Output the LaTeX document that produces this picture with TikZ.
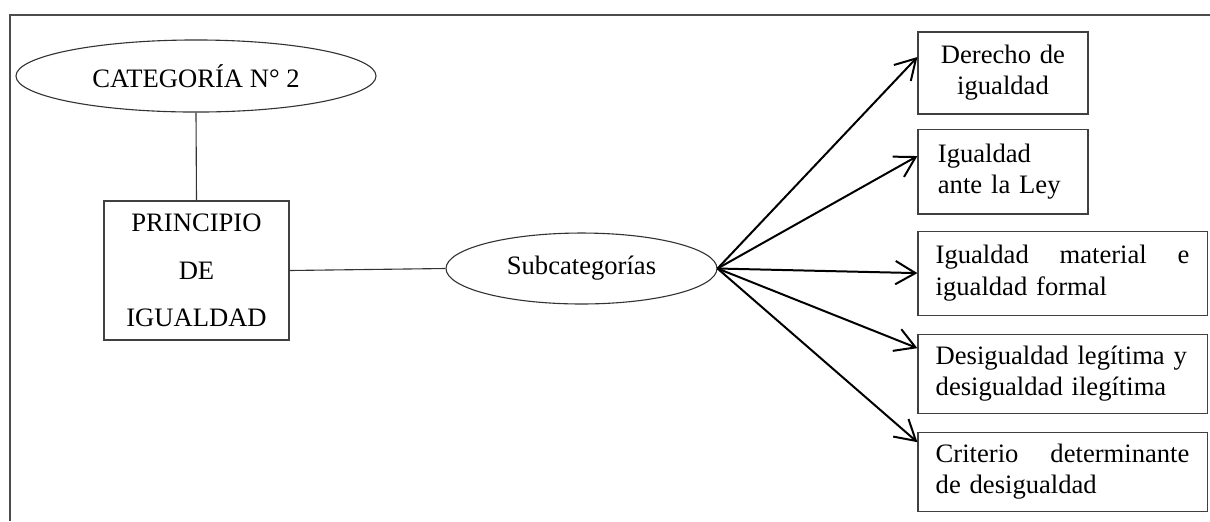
\documentclass[tikz,border=0pt]{standalone}
\usepackage{fontspec}
\setmainfont{Liberation Serif}
\usepackage{tikz}
\usetikzlibrary{positioning,arrows.meta,shapes.geometric}
\tikzset{
  catellipse/.style={ellipse, draw=black!80, line width=0.5pt, inner sep=0pt, font=\fontsize{12}{14}\selectfont},
  mainbox/.style={rectangle, draw=black!75, line width=0.5pt, inner sep=0pt, align=center,
                  minimum width=83.4pt, minimum height=62.7pt, font=\fontsize{12}{21.5}\selectfont},
  subbox/.style={rectangle, draw=black!75, line width=0.5pt, inner xsep=9pt, inner ysep=0pt, font=\fontsize{12}{14}\selectfont},
  narrow/.style={text width=58.7pt},
  wide/.style={text width=114.4pt, inner xsep=8pt, align=left, minimum height=35.6pt},
  fwd/.style={-{Straight Barb[length=9pt,width=10.5pt]}, line width=0.9pt},
  link/.style={draw=black!80, line width=0.5pt},
  frame/.style={draw=black!70, line width=0.8pt},
}

\begin{document}
\begin{tikzpicture}[x=0.451pt,y=-0.451pt]
  \useasboundingbox (0,0) rectangle (1210,521);
  \draw[frame] (10,521) -- (10,15) -- (1210,15);

  \node[catellipse, minimum width=162.4pt, minimum height=32.5pt] (cat) at (196,76) {CATEGORÍA N° 2};
  \node[mainbox] (principio) at (196.5,270.5) {PRINCIPIO\\DE\\IGUALDAD};
  \node[catellipse, minimum width=122.2pt, minimum height=32pt] (sub) at (581.5,268.5) {Subcategorías};

  % column of subcategories
  \node[subbox, narrow, align=center, minimum height=37pt] (der) at (1003,73) {Derecho de\\igualdad};
  \node[subbox, narrow, align=left, minimum height=38.3pt, below=6.3pt of der.south west, anchor=north west] (ley) {Igualdad\\ante la Ley};
  \node[subbox, wide, minimum height=37.9pt, below=7.2pt of ley.south west, anchor=north west] (mat) {Igualdad\hfill material\hfill e\\igualdad formal};
  \node[subbox, wide, below=8.1pt of mat.south west, anchor=north west] (desig) {Desigualdad legítima y\\desigualdad ilegítima};
  \node[subbox, wide, below=8.1pt of desig.south west, anchor=north west] (crit) {Criterio\hfill determinante\\de desigualdad};

  \draw[link] (cat.south) -- (principio.north);
  \draw[link] (principio.east) -- (sub.west);

  \draw[fwd] (sub.east) -- ([yshift=7.2pt]der.west);
  \draw[fwd] (sub.east) -- ([yshift=7pt]ley.west);
  \draw[fwd] (sub.east) -- (mat.west);
  \draw[fwd] (sub.east) -- ([yshift=11.5pt]desig.west);
  \draw[fwd] (sub.east) -- ([yshift=13.3pt]crit.west);
\end{tikzpicture}
\end{document}
